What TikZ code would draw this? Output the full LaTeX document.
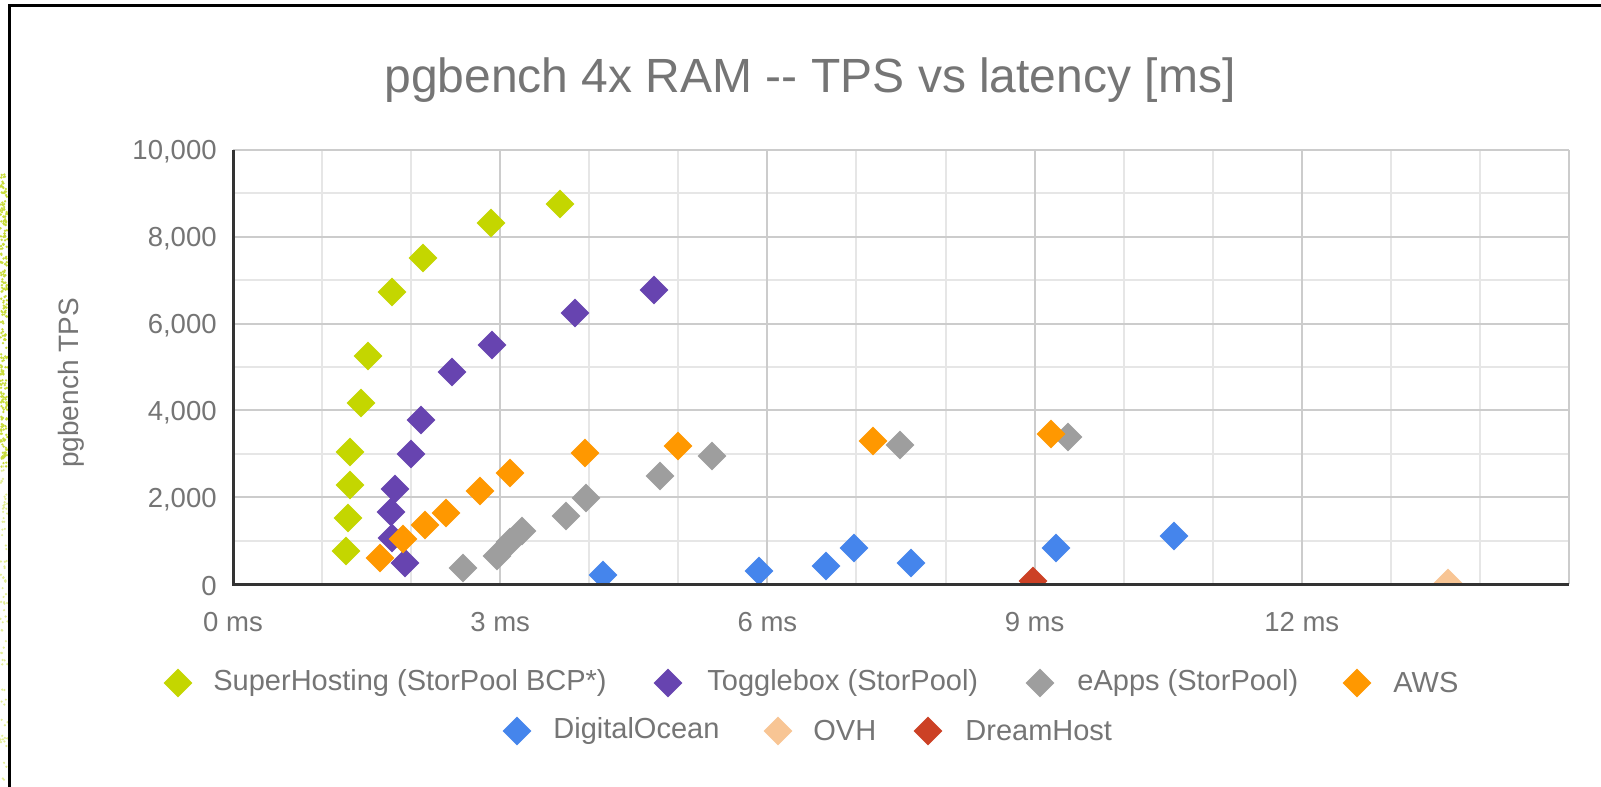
\documentclass[tikz,border=0pt]{standalone}
\usepackage{fontspec}
\setmainfont{Liberation Sans}[Ligatures=TeXOff]
\usetikzlibrary{shapes.geometric}
\definecolor{txt}{HTML}{757575}
\definecolor{gminor}{HTML}{E6E6E6}
\definecolor{gmajor}{HTML}{CCCCCC}
\definecolor{axisc}{HTML}{333333}
\definecolor{cSH}{HTML}{C4D600}
\definecolor{cTB}{HTML}{6744B0}
\definecolor{cEA}{HTML}{9E9E9E}
\definecolor{cAWS}{HTML}{FF9800}
\definecolor{cDO}{HTML}{4585EC}
\definecolor{cOVH}{HTML}{F8C594}
\definecolor{cDH}{HTML}{CC4125}
\definecolor{dotc}{HTML}{C8DC3C}
\begin{document}
\begin{tikzpicture}[x=0.5pt,y=-0.5pt,
 pt/.style={diamond,inner sep=0pt,minimum width=14.6pt,minimum height=14.6pt,fill=#1},
 lbl/.style={text=txt,font=\fontsize{14.5}{17}\selectfont,inner sep=0pt,anchor=west},
 tick/.style={text=txt,font=\fontsize{13.75}{16}\selectfont,inner sep=0pt},
 minorg/.style={gminor,line width=1pt},
 majorg/.style={gmajor,line width=1pt},
]
\useasboundingbox (0,0) rectangle (1601,787);
\fill[white] (0,0) rectangle (1601,787);
% background dots on the left edge
\pgfmathsetseed{7}
\foreach \i in {1,...,260} {
  \pgfmathsetmacro\dx{0.5+7*rnd}
  \pgfmathsetmacro\dy{172+295*rnd}
  \fill[dotc] (\dx,\dy) circle (0.65pt);
}
\foreach \i in {1,...,80} {
  \pgfmathsetmacro\dx{0.5+7*rnd}
  \pgfmathsetmacro\dy{460+320*rnd}
  \fill[dotc!55] (\dx,\dy) circle (0.6pt);
}
% frame
\draw[line width=1.5pt,black] (1601,5) -- (9.5,5) -- (9.5,787);
% title
\node[text=txt,font=\fontsize{24}{28}\selectfont,anchor=base,inner sep=0pt] (title) at (810,92) {pgbench 4x RAM -- TPS vs latency [ms]};
% grid
\foreach \k in {1,2,4,5,7,8,10,11,13,14}
  \draw[minorg] ({233+89.0667*\k},150) -- ({233+89.0667*\k},584);
\foreach \k in {1,3,5,7,9}
  \draw[minorg] (233,{584-43.4*\k}) -- (1569,{584-43.4*\k});
\foreach \k in {3,6,9,12,15}
  \draw[majorg] ({233+89.0667*\k},150) -- ({233+89.0667*\k},584);
\foreach \k in {2,4,6,8,10}
  \draw[majorg] (233,{584-43.4*\k}) -- (1569,{584-43.4*\k});
% data
\begin{scope}
\clip (233,150) rectangle (1569,584);
\foreach \x/\y [count=\i] in {560/204,491/223,423/258,392/292,368/356,361/403,350/452,350/485,348/518,346/551}
  \node[pt=cSH] (sh\i) at (\x,\y) {};
\foreach \x/\y [count=\i] in {654/290,575/313,492/345,452/372,421/420,411/454,395/489,391/512,392/538,405/563}
  \node[pt=cTB] (tb\i) at (\x,\y) {};
\foreach \x/\y [count=\i] in {1068/437,900/445,712/456,660/476,586/498,566/516,522/531,510/542,497/556,463/568}
  \node[pt=cEA] (ea\i) at (\x,\y) {};
\foreach \x/\y [count=\i] in {1051/434,873/441,678/446,585/453,510/473,480/491,446/513,425/525,403/539,380/558}
  \node[pt=cAWS] (aws\i) at (\x,\y) {};
\foreach \x/\y [count=\i] in {603/575,759/571,826/566,854/548,911/563,1056/548,1174/536}
  \node[pt=cDO] (do\i) at (\x,\y) {};
\node[pt=cOVH] (ovh1) at (1448,583) {};
\node[pt=cDH] (dh1) at (1033,581) {};
\end{scope}
% axes
\draw[axisc,line width=1.5pt] (233,150) -- (233,584) -- (1569,584);
% tick labels
\foreach \k/\t in {0/0,2/{2,000},4/{4,000},6/{6,000},8/{8,000},10/{10,000}}
  \node[tick,anchor=east] (yl\k) at (217,{586-43.4*\k}) {\t};
\foreach \k in {0,3,6,9,12}
  \node[tick] (xl\k) at ({233+89.0667*\k},622) {\k\ ms};
\node[tick,rotate=90,font=\fontsize{14}{16}\selectfont] (ytitle) at (71,383) {pgbench TPS};
% legend
\node[pt=cSH] (lg1) at (178,683) {};
\node[lbl] (lt1) at (213,683) {SuperHosting (StorPool BCP*)};
\node[pt=cTB] (lg2) at (668,683) {};
\node[lbl] (lt2) at (707,683) {Togglebox (StorPool)};
\node[pt=cEA] (lg3) at (1040,683) {};
\node[lbl] (lt3) at (1077,683) {eApps (StorPool)};
\node[pt=cAWS] (lg4) at (1357,683) {};
\node[lbl] (lt4) at (1393,683) {AWS};
\node[pt=cDO] (lg5) at (517,731) {};
\node[lbl] (lt5) at (553,731) {DigitalOcean};
\node[pt=cOVH] (lg6) at (778,731) {};
\node[lbl] (lt6) at (813,731) {OVH};
\node[pt=cDH] (lg7) at (928,731) {};
\node[lbl] (lt7) at (965,731) {DreamHost};
\end{tikzpicture}
\end{document}
